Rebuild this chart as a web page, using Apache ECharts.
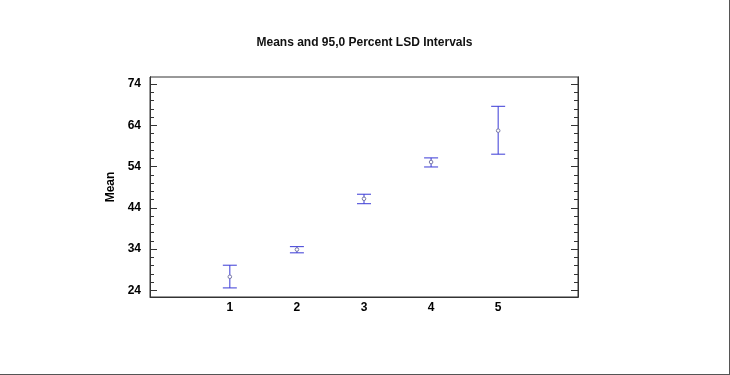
<!DOCTYPE html>
<html>
<head>
<meta charset="utf-8">
<script src="https://cdn.jsdelivr.net/npm/echarts@6/dist/echarts.min.js"></script>
<style>
  html, body { margin: 0; padding: 0; background: #fff; }
  #main { width: 729px; height: 374px; border-right: 1px solid #555; border-bottom: 1px solid #555; }
</style>
</head>
<body>
<div id="main"></div>
<script>
// levels and LSD intervals
var groups = [1, 2, 3, 4, 5];
var means = [27.3, 33.9, 46.2, 55.1, 62.7];
var lower = [24.6, 33.1, 45.0, 53.9, 57.0];
var upper = [30.1, 34.6, 47.3, 56.1, 68.6];

var yTicks = [24, 34, 44, 54, 64, 74];
var yMinor = [26, 28, 30, 32, 36, 38, 40, 42, 46, 48, 50, 52, 56, 58, 60, 62, 66, 68, 70, 72];
var xTicks = [1, 2, 3, 4, 5];

var FONT = 'Liberation Sans';
var BLUE = '#3a3ad6';

var chart = echarts.init(document.getElementById('main'), null, { renderer: 'canvas' });

var data = groups.map(function (g, i) {
  return [g, means[i], lower[i], upper[i]];
});

function yAxisOf(pos, ticks, len, withLabels) {
  return {
    type: 'value',
    position: pos,
    offset: 0,
    min: 22.4,
    max: 75.7,
    splitLine: { show: false },
    axisLine: { show: true, onZero: false, lineStyle: { color: '#333', width: 1 } },
    axisTick: { show: true, inside: true, length: len, customValues: ticks, lineStyle: { color: '#333' } },
    axisLabel: {
      show: withLabels,
      customValues: yTicks,
      margin: 9,
      color: '#000',
      fontFamily: FONT,
      fontWeight: 'bold',
      fontSize: 12
    }
  };
}

var option = {
  animation: false,
  title: {
    text: 'Means and 95,0 Percent LSD Intervals',
    left: 'center',
    top: 32,
    textStyle: { fontFamily: FONT, fontWeight: 'bold', fontSize: 12, color: '#111' }
  },
  grid: {
    left: 150,
    right: 151,
    top: 77,
    bottom: 77,
    show: true,
    borderColor: '#333',
    borderWidth: 1,
    backgroundColor: '#fff'
  },
  xAxis: {
    type: 'value',
    min: -0.19,
    max: 6.19,
    splitLine: { show: false },
    axisLine: { show: true, onZero: false, lineStyle: { color: '#333' } },
    axisTick: { show: false },
    axisLabel: {
      customValues: xTicks,
      margin: 5,
      color: '#000',
      fontFamily: FONT,
      fontWeight: 'bold',
      fontSize: 12
    }
  },
  yAxis: [
    Object.assign(yAxisOf('left', yTicks, 7, true), {
      name: 'Mean',
      nameLocation: 'middle',
      nameGap: 30,
      nameRotate: 90,
      nameTextStyle: { fontFamily: FONT, fontWeight: 'bold', fontSize: 12, color: '#000' }
    }),
    yAxisOf('left', yMinor, 4, false),
    yAxisOf('right', yTicks, 7, false),
    yAxisOf('right', yMinor, 4, false)
  ],
  series: [{
    type: 'custom',
    yAxisIndex: 0,
    data: data,
    renderItem: function (params, api) {
      var x = api.value(0);
      var m = api.coord([x, api.value(1)]);
      var lo = api.coord([x, api.value(2)]);
      var hi = api.coord([x, api.value(3)]);
      var half = 7;
      var st = { stroke: BLUE, lineWidth: 1 };
      return {
        type: 'group',
        children: [
          { type: 'line', shape: { x1: lo[0], y1: lo[1], x2: hi[0], y2: hi[1] }, style: st },
          { type: 'line', shape: { x1: lo[0] - half, y1: lo[1], x2: lo[0] + half, y2: lo[1] }, style: st },
          { type: 'line', shape: { x1: hi[0] - half, y1: hi[1], x2: hi[0] + half, y2: hi[1] }, style: st },
          { type: 'circle', shape: { cx: m[0], cy: m[1], r: 1.8 }, style: { fill: '#fff', stroke: '#7a7aa8', lineWidth: 1 } }
        ]
      };
    }
  }]
};

chart.setOption(option);
</script>
</body>
</html>
